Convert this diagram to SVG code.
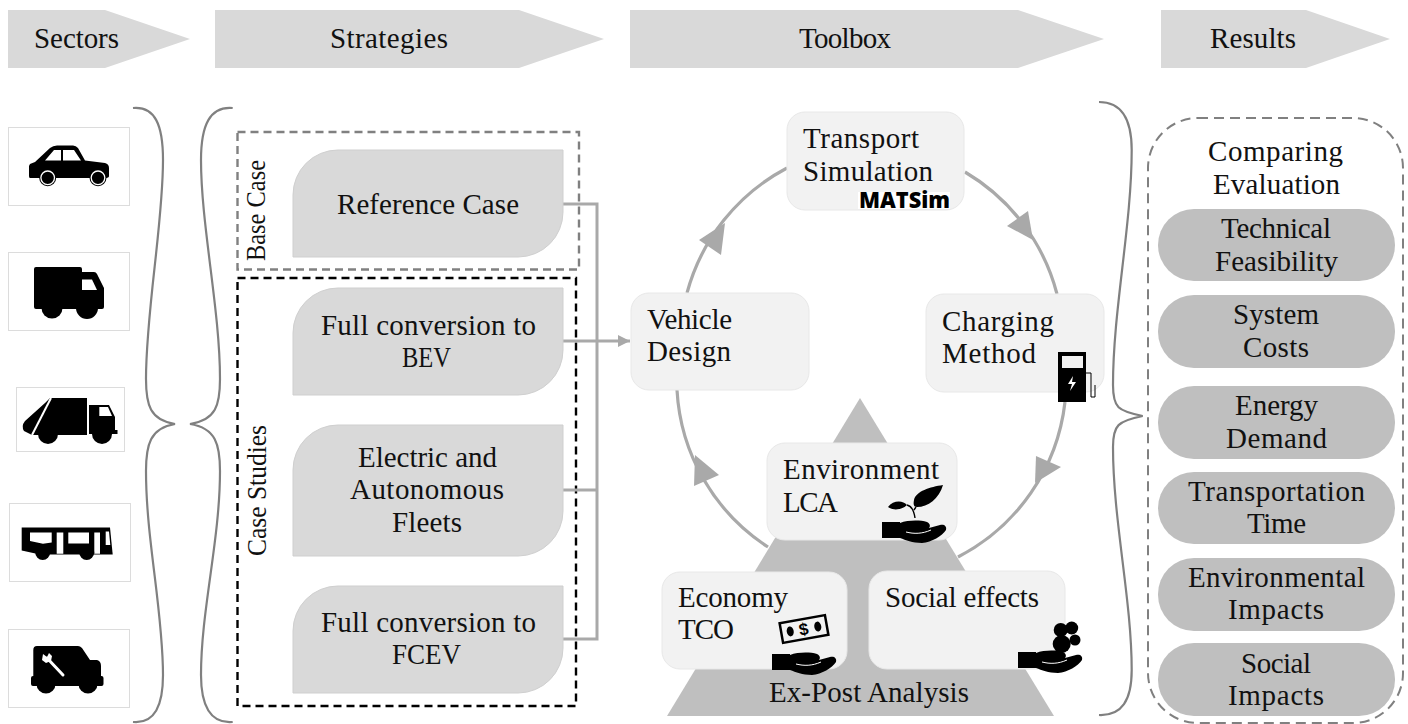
<svg xmlns="http://www.w3.org/2000/svg" xmlns:xlink="http://www.w3.org/1999/xlink" width="1408" height="724" viewBox="0 0 1408 724">
<style>
text{font-family:"Liberation Serif","Times New Roman",serif;font-size:29px;fill:#111}
.hd{fill:#d9d9d9}
.sn{fill:#d9d9d9;stroke:#cfcfcf;stroke-width:1}
.tn{fill:#f2f2f2;stroke:#e8e8e8;stroke-width:1}
.pill{fill:#bfbfbf}
.ib{fill:#fff;stroke:#dcdcdc;stroke-width:1}
.br{fill:none;stroke:#808080;stroke-width:2.2}
.cn{fill:none;stroke:#a9a9a9;stroke-width:3}
.ring{fill:none;stroke:#a9a9a9;stroke-width:3.2}
.ah{fill:#a9a9a9}
.k{fill:#000}
.w{fill:#fff}
</style>
<defs>
<marker id="tip" viewBox="0 0 6 6" markerWidth="4" markerHeight="4" refX="6" refY="3" orient="auto"><path d="M0,0L6,3L0,6z" fill="#a9a9a9"/></marker>
<g id="hand">
<path class="k" d="M0,0H18V1C26,-2 38,-2 45,0C49,2 48,5 47,6L58,3C62,2 65,4 64,8C60,14 50,20 40,21C30,21 24,18 18,16H0z"/>
<path d="M24,10C32,12 40,12 49,8" fill="none" stroke="#fff" stroke-width="1"/>
</g>
</defs>

<g id="header-sectors"><polygon class="hd" points="8,10 105,10 190,39 105,68 8,68"/><text x="34" y="48" textLength="85">Sectors</text></g>
<g id="header-strategies"><polygon class="hd" points="215,10 519,10 604,39 519,68 215,68"/><text x="330" y="48" textLength="118">Strategies</text></g>
<g id="header-toolbox"><polygon class="hd" points="630,10 1018,10 1104,39 1018,68 630,68"/><text x="799" y="48" textLength="92">Toolbox</text></g>
<g id="header-results"><polygon class="hd" points="1161,10 1306,10 1390,39 1306,68 1161,68"/><text x="1210" y="48" textLength="86">Results</text></g>

<g id="sector-car">
<rect class="ib" x="8.500" y="127.500" width="121" height="78"/>
<path class="k" d="M30,164L35,162L50,148Q53,145.500 57,145.500H73Q76,145.500 78,148L85,160.600L105,163Q109,164 109,168V176Q109,178 105,178H30Q29,178 29,176V166z"/>
<path class="w" d="M45,160.600H61V150H54zM63,150H74L81,160.600H63z"/>
<circle cx="47.700" cy="177.800" r="8.500" class="k"/><circle cx="47.700" cy="177.800" r="6.800" fill="none" stroke="#fff" stroke-width="1.300"/><circle cx="47.700" cy="177.800" r="3.500" class="k"/>
<circle cx="98" cy="177.800" r="8.500" class="k"/><circle cx="98" cy="177.800" r="6.800" fill="none" stroke="#fff" stroke-width="1.300"/><circle cx="98" cy="177.800" r="3.500" class="k"/>
</g>
<g id="sector-truck">
<rect class="ib" x="8.500" y="252.500" width="121" height="78"/>
<path class="k" d="M34,269Q34,267 36,267H80Q82,267 82,269V272H94Q96,272 97,274L104,288V307Q104,309 102,309H36Q34,309 34,307z"/>
<path class="w" d="M82,279.500H92L97,290H82z"/>
<circle cx="52" cy="308" r="10.500" class="k"/><circle cx="87" cy="308" r="11" class="k"/>
</g>
<g id="sector-garbage">
<rect class="ib" x="16.500" y="387.500" width="108" height="64"/>
<path class="k" d="M50,398H87V435H32L24,431Q21,426 25,421L45,403z"/>
<path class="k" d="M89,405H109L115,417V430H117.500V434H89z"/>
<path d="M51,398L32,435" stroke="#fff" stroke-width="2" fill="none"/>
<path class="w" d="M99.300,407H108L112,416H99.300z"/>
<circle cx="48" cy="434" r="10" class="k"/><circle cx="102" cy="434" r="10" class="k"/>
</g>
<g id="sector-bus">
<rect class="ib" x="9.500" y="503.500" width="121" height="78"/>
<path class="k" d="M21.700,527.400H110L112.700,554.500H40L21.700,550.500z"/>
<path class="w" d="M30,532.600H51.700V542.600L43,543.700L30,541zM56.700,532.600H63.300V553.700H56.700zM68.300,532.600H89V543.400H68.300zM94.300,532.600H100V553.700H94.300zM105.700,531.400H109L110.300,545H105.700z"/>
<circle cx="42.700" cy="552.500" r="7.500" class="k"/><circle cx="86.700" cy="552.500" r="7.500" class="k"/>
</g>
<g id="sector-service">
<rect class="ib" x="8.500" y="629.500" width="121" height="78"/>
<path class="k" d="M33.300,650Q33.300,646 37,646H78Q80,646 82,648L90,660H97Q101,661 101,666V676H101.500Q103.500,676 103.500,678V684Q103.500,686 101.500,686H33Q31,686 31,684V678Q31,676 33,676H33.300z"/>
<circle cx="46" cy="684" r="9.500" class="k"/><circle cx="88" cy="684" r="9.500" class="k"/>
<path d="M47,658L63,675" stroke="#fff" stroke-width="3" fill="none" stroke-linecap="round"/>
<path class="w" d="M43,654L47,657L49,653L52,656L51,661L46,663L42,660z"/>
</g>

<path id="brace-sectors" class="br" d="M133,108C155,106 163,125 163,160C163,225 146,310 146,379C146,405 150,420 175,424C150,428 146,445 146,471C146,540 163,610 163,675C163,705 155,724 133,722"/>
<path id="brace-strategies" class="br" d="M232.700,108C210,106 201,125 201,160C201,225 220,310 220,379C220,405 216,420 190,424C216,428 220,445 220,471C220,540 201,610 201,675C201,705 210,724 232.700,722"/>
<path id="brace-toolbox" class="br" d="M1099,102C1122,102 1131.700,120 1131.700,150C1131.700,225 1113,310 1113,385C1113,408 1118,411 1142.700,416C1118,421 1113,425 1113,447C1113,520 1131.700,600 1131.700,670C1131.700,700 1122,716 1099,715"/>

<g id="box-base"><rect x="237.500" y="132" width="341.500" height="137.500" fill="none" stroke="#808080" stroke-width="2.400" stroke-dasharray="8 5"/><text transform="translate(265,261) rotate(-90)" textLength="101" lengthAdjust="spacingAndGlyphs" style="font-size:27px">Base Case</text></g>
<g id="box-cases"><rect x="237.500" y="278" width="338.500" height="428" fill="none" stroke="#000" stroke-width="2.400" stroke-dasharray="8 5"/><text transform="translate(266,556) rotate(-90)" textLength="131" lengthAdjust="spacingAndGlyphs" style="font-size:27px">Case Studies</text></g>

<g id="connectors">
<path class="cn" d="M563,204H597V639H563M563,490H597"/>
<path class="cn" d="M563,341H630" marker-end="url(#tip)" stroke-width="2.500"/>
<path class="ring" d="M687,293A200,200 0 0 1 787,168"/>
<path class="ring" d="M965,172A200,200 0 0 1 1057,294"/>
<path class="ring" d="M1065,402A200,200 0 0 1 958,557"/>
<path class="ring" d="M768,547A200,200 0 0 1 677,390"/>
<polygon class="ah" points="725,223 699,240 721,255"/>
<polygon class="ah" points="1033,240 1007,226 1028,211"/>
<polygon class="ah" points="1035,483 1036,456 1061,467"/>
<polygon class="ah" points="695,455 694,486 719,475"/>
</g>

<g id="strategy-reference"><path class="sn" d="M293,257V195A45,45 0 0 1 338,150H563V212A45,45 0 0 1 518,257z"/><text x="337" y="214" textLength="182">Reference Case</text></g>
<g id="strategy-bev"><path class="sn" d="M293,395V333A45,45 0 0 1 338,288H563V350A45,45 0 0 1 518,395z"/><text x="321" y="335" textLength="215">Full conversion to</text><text x="402" y="367" textLength="49" lengthAdjust="spacingAndGlyphs">BEV</text></g>
<g id="strategy-fleets"><path class="sn" d="M293,556V470A45,45 0 0 1 338,425H563V511A45,45 0 0 1 518,556z"/><text x="358" y="467" textLength="139">Electric and</text><text x="350" y="499" textLength="154">Autonomous</text><text x="392" y="532" textLength="70">Fleets</text></g>
<g id="strategy-fcev"><path class="sn" d="M293,693V631A45,45 0 0 1 338,586H563V648A45,45 0 0 1 518,693z"/><text x="321" y="632" textLength="215">Full conversion to</text><text x="392" y="664" textLength="69" lengthAdjust="spacingAndGlyphs">FCEV</text></g>

<polygon id="pyramid" points="860,398 1054,716 667,716" fill="#bfbfbf"/>

<g id="node-transport"><rect class="tn" x="787" y="112" width="177" height="98" rx="18"/><text x="803" y="148" textLength="116">Transport</text><text x="803" y="181" textLength="130">Simulation</text><rect x="858" y="192" width="92" height="17" fill="#fff"/><text x="859" y="208" textLength="91" lengthAdjust="spacingAndGlyphs" style="font-family:'Open Sans',sans-serif;font-weight:800;font-size:22px;fill:#000">MATSim</text></g>
<g id="node-vehicle"><rect class="tn" x="631" y="293" width="178" height="97" rx="18"/><text x="647" y="329" textLength="85">Vehicle</text><text x="647" y="361" textLength="84">Design</text></g>
<g id="node-charging"><rect class="tn" x="926" y="294" width="178" height="98" rx="18"/><text x="942" y="331" textLength="112">Charging</text><text x="942" y="363" textLength="94">Method</text>
<rect class="k" x="1058" y="352" width="28" height="50"/><rect x="1062" y="356" width="21" height="12" fill="#f2f2f2"/><path class="w" d="M1073,376L1068,384H1072L1070,391L1076,382H1072z"/><path d="M1086,373H1091V397H1095V385" fill="none" stroke="#000" stroke-width="1"/></g>
<g id="node-environment"><rect class="tn" x="767" y="443" width="190" height="97" rx="18"/><text x="783" y="479" textLength="156">Environment</text><text x="783" y="512" textLength="55">LCA</text>
<use xlink:href="#hand" href="#hand" x="882" y="522"/>
<path class="k" d="M943,485C930,487 916,491 914,500C913,505 914,507 917,507C928,507 939,499 943,485zM888,507C893,500 903,500 907,505C902,510 893,511 888,507z"/><path d="M907,505C912,506 914,511 915,518M916,507L914,510" fill="none" stroke="#000" stroke-width="1.400"/></g>
<g id="node-economy"><rect class="tn" x="662" y="572" width="185" height="97" rx="18"/><text x="678" y="607" textLength="110">Economy</text><text x="678" y="639" textLength="56">TCO</text>
<use xlink:href="#hand" href="#hand" x="772" y="654"/>
<g transform="rotate(-10 804 629)"><rect x="781" y="619" width="46" height="20" fill="#f2f2f2" stroke="#000" stroke-width="2.500"/><ellipse cx="790" cy="629" rx="3.500" ry="5" class="k"/><ellipse cx="818" cy="629" rx="3.500" ry="5" class="k"/><text x="799" y="635" style="font-size:17px;font-weight:700;font-family:'Liberation Sans',sans-serif;fill:#000">$</text></g></g>
<g id="node-social"><rect class="tn" x="869" y="571" width="196" height="98" rx="18"/><text x="885" y="607" textLength="154">Social effects</text>
<use xlink:href="#hand" href="#hand" x="1018" y="652"/>
<circle cx="1060.700" cy="630" r="7" class="k"/><circle cx="1071.700" cy="628" r="6.500" class="k"/><circle cx="1075" cy="640" r="5.500" class="k"/><circle cx="1061.700" cy="644" r="9" class="k"/></g>
<text id="label-expost" x="769" y="702" textLength="200">Ex-Post Analysis</text>

<g id="results-box"><rect x="1148" y="118" width="255" height="605" rx="50" fill="none" stroke="#808080" stroke-width="2" stroke-dasharray="10 6"/><text x="1208" y="161" textLength="135">Comparing</text><text x="1213" y="194" textLength="127">Evaluation</text></g>
<g id="result-technical"><rect class="pill" x="1158" y="209" width="237" height="72" rx="36"/><text x="1221" y="238" textLength="110">Technical</text><text x="1215" y="271" textLength="123">Feasibility</text></g>
<g id="result-costs"><rect class="pill" x="1158" y="295" width="237" height="73" rx="36"/><text x="1233" y="324" textLength="86">System</text><text x="1243" y="357" textLength="66">Costs</text></g>
<g id="result-energy"><rect class="pill" x="1158" y="386" width="237" height="73" rx="36"/><text x="1235" y="415" textLength="83">Energy</text><text x="1226" y="448" textLength="101">Demand</text></g>
<g id="result-time"><rect class="pill" x="1158" y="472" width="237" height="72" rx="36"/><text x="1188" y="501" textLength="177">Transportation</text><text x="1247" y="533" textLength="59">Time</text></g>
<g id="result-environmental"><rect class="pill" x="1158" y="558" width="237" height="73" rx="36"/><text x="1188" y="587" textLength="177">Environmental</text><text x="1228" y="619" textLength="96">Impacts</text></g>
<g id="result-social"><rect class="pill" x="1158" y="643" width="237" height="73" rx="36"/><text x="1241" y="673" textLength="70">Social</text><text x="1228" y="705" textLength="96">Impacts</text></g>
</svg>
